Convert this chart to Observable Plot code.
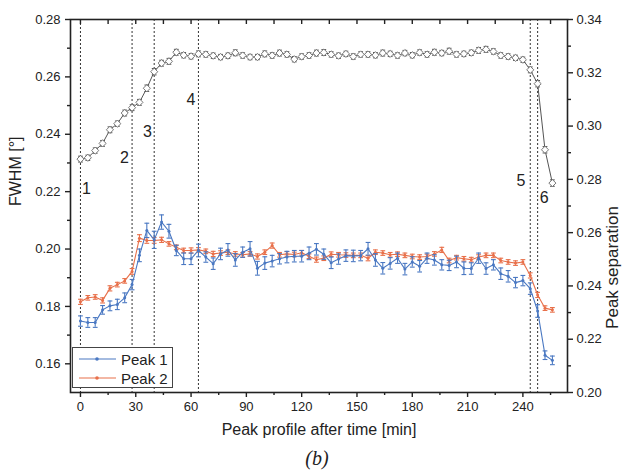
<!DOCTYPE html>
<html>
<head>
<meta charset="utf-8">
<script src="https://cdn.jsdelivr.net/npm/d3@7"></script>
<script src="https://cdn.jsdelivr.net/npm/@observablehq/plot@0.6"></script>
<style>
  body { margin: 0; background: white; }
  #wrap { position: relative; width: 624px; height: 470px; font-family: "Liberation Sans", Arial, sans-serif; }
  #legend { position: absolute; left: 72px; top: 347px; width: 101px; height: 41px; border: 1px solid #444; background: white; box-sizing: border-box; }
  .row { position: absolute; left: 0; height: 18px; display: flex; align-items: center; font-size: 15px; color: #222; white-space: nowrap; }
  #caption { position: absolute; left: 0; top: 445px; width: 634px; height: 26px; line-height: 26px; text-align: center; font-family: "Liberation Serif", "DejaVu Serif", serif; font-style: italic; font-size: 20px; color: #222; }
</style>
</head>
<body>
<div id="wrap">
  <div id="chart"></div>
  <div id="legend"></div>
  <div id="caption">(<i>b</i>)</div>
</div>
<script>
// ---- data ----
const time = [0,4,8,12,16,20,24,28,32,36,40,44,48,52,56,60,64,68,72,76,80,84,88,92,96,100,104,108,112,116,120,124,128,132,136,140,144,148,152,156,160,164,168,172,176,180,184,188,192,196,200,204,208,212,216,220,224,228,232,236,240,244,248,252,256];

const peak1 = [0.1749,0.1744,0.1744,0.1788,0.1802,0.1807,0.1830,0.1876,0.1978,0.2065,0.2032,0.2094,0.2062,0.1995,0.1966,0.1966,0.1995,0.1972,0.1949,0.1983,0.1997,0.1962,0.1989,0.2001,0.1933,0.1951,0.1958,0.1966,0.1972,0.1975,0.1975,0.1985,0.1999,0.1982,0.1952,0.1965,0.1977,0.1976,0.1977,0.2001,0.1962,0.1933,0.1950,0.1968,0.1930,0.1955,0.1940,0.1968,0.1962,0.1945,0.1943,0.1955,0.1933,0.1932,0.1968,0.1932,0.1945,0.1914,0.1905,0.1883,0.1890,0.1862,0.1784,0.1630,0.1612];
const peak1Err = [0.0018,0.0017,0.0017,0.0015,0.0017,0.0018,0.0017,0.0018,0.0022,0.0025,0.0030,0.0025,0.0024,0.0018,0.0020,0.0020,0.0022,0.0018,0.0020,0.0020,0.0022,0.0022,0.0018,0.0025,0.0024,0.0022,0.0020,0.0018,0.0020,0.0020,0.0020,0.0022,0.0020,0.0018,0.0020,0.0018,0.0020,0.0020,0.0018,0.0022,0.0022,0.0020,0.0020,0.0018,0.0020,0.0018,0.0020,0.0018,0.0018,0.0018,0.0018,0.0020,0.0022,0.0020,0.0018,0.0020,0.0018,0.0020,0.0020,0.0018,0.0018,0.0020,0.0022,0.0015,0.0015];

const peak2 = [0.1816,0.1830,0.1833,0.1821,0.1863,0.1876,0.1889,0.1922,0.2038,0.2030,0.2030,0.2032,0.2018,0.2006,0.1995,0.1995,0.1997,0.1992,0.1983,0.1986,0.1989,0.1983,0.1980,0.1983,0.1974,0.1989,0.2012,0.1980,0.1983,0.1981,0.1987,0.1975,0.1963,0.1968,0.1982,0.1980,0.1979,0.1978,0.1978,0.1968,0.1989,0.1986,0.1980,0.1982,0.1978,0.1974,0.1972,0.1974,0.1983,0.1997,0.1960,0.1970,0.1966,0.1963,0.1972,0.1978,0.1978,0.1960,0.1955,0.1951,0.1955,0.1908,0.1840,0.1794,0.1788];
const peak2Err = [0.0009,0.0008,0.0008,0.0009,0.0009,0.0008,0.0008,0.0010,0.0012,0.0010,0.0010,0.0009,0.0008,0.0008,0.0008,0.0009,0.0008,0.0008,0.0009,0.0008,0.0008,0.0008,0.0008,0.0008,0.0009,0.0008,0.0009,0.0008,0.0008,0.0008,0.0008,0.0008,0.0009,0.0008,0.0008,0.0008,0.0008,0.0008,0.0008,0.0009,0.0008,0.0008,0.0008,0.0008,0.0008,0.0008,0.0008,0.0008,0.0008,0.0009,0.0008,0.0008,0.0008,0.0008,0.0008,0.0008,0.0008,0.0008,0.0008,0.0008,0.0008,0.0009,0.0009,0.0008,0.0008];

const separation = [0.2876,0.2881,0.2908,0.2935,0.2986,0.3009,0.3049,0.3069,0.3089,0.3142,0.3204,0.3236,0.3243,0.3277,0.3266,0.3262,0.3271,0.3269,0.3264,0.3259,0.3264,0.3275,0.3265,0.3259,0.3259,0.3271,0.3265,0.3274,0.3269,0.3251,0.3261,0.3265,0.3274,0.3276,0.3269,0.3264,0.3271,0.3261,0.3269,0.3269,0.3266,0.3274,0.3271,0.3265,0.3274,0.3266,0.3276,0.3269,0.3277,0.3274,0.3281,0.3269,0.3271,0.3275,0.3284,0.3288,0.3280,0.3265,0.3261,0.3256,0.3249,0.3211,0.3159,0.2911,0.2786];
const separationErr = [0.0011,0.0010,0.0010,0.0011,0.0011,0.0010,0.0011,0.0011,0.0011,0.0012,0.0012,0.0011,0.0011,0.0011,0.0010,0.0010,0.0011,0.0010,0.0010,0.0010,0.0010,0.0011,0.0010,0.0010,0.0010,0.0011,0.0010,0.0011,0.0010,0.0010,0.0010,0.0010,0.0011,0.0011,0.0010,0.0010,0.0010,0.0010,0.0010,0.0010,0.0010,0.0011,0.0010,0.0010,0.0010,0.0010,0.0010,0.0010,0.0011,0.0010,0.0011,0.0010,0.0010,0.0010,0.0011,0.0011,0.0010,0.0010,0.0010,0.0010,0.0010,0.0011,0.0012,0.0012,0.0012];

const phaseLines = [0, 28, 40, 64, 244, 248];
const phaseLabels = ["1","2","3","4","5","6"];
const phaseLabelX = [3.3, 23.8, 36.4, 60, 238.9, 251.6];
const phaseLabelY = [0.2208, 0.2317, 0.2407, 0.2521, 0.2236, 0.2178];

const xTicksMajor = [0,30,60,90,120,150,180,210,240];
const xTicksMinor = [15,45,75,105,135,165,195,225,255];
const xTicksTop = [0,15,30,45,60,75,90,105,120,135,150,165,180,195,210,225,240,255];
const yLeftMajor = [0.16,0.18,0.20,0.22,0.24,0.26,0.28];
const yLeftMinor = [0.17,0.19,0.21,0.23,0.25,0.27];
const yRightMajor = [0.20,0.22,0.24,0.26,0.28,0.30,0.32,0.34];
const yRightMinor = [0.21,0.23,0.25,0.27,0.29,0.31,0.33];

const seriesNames = ["Peak 1", "Peak 2"];
const colors = { p1: "#4a78c2", p2: "#e8704a", sep: "#555" };

// ---- dual axis mapping: right (Peak separation) domain [0.20,0.34] -> left (FWHM) [0.15,0.28]
const L0 = 0.15, L1 = 0.28, R0 = 0.20, R1 = 0.34;
const toLeft = v => L0 + (v - R0) * (L1 - L0) / (R1 - R0);
const toRight = v => R0 + (v - L0) * (R1 - R0) / (L1 - L0);
const errToLeft = e => e * (L1 - L0) / (R1 - R0);

const rows = time.map((t, i) => ({
  t,
  p1: peak1[i], e1: peak1Err[i],
  p2: peak2[i], e2: peak2Err[i],
  s: toLeft(separation[i]), es: errToLeft(separationErr[i])
}));
const labels = phaseLabels.map((s, i) => ({ s, x: phaseLabelX[i], y: phaseLabelY[i] }));

const cap = 1.3; // half-width of error-bar caps, in minutes

function errorMarks(key, ekey, color, width) {
  return [
    Plot.ruleX(rows, { x: "t", y1: d => d[key] - d[ekey], y2: d => d[key] + d[ekey], stroke: color, strokeWidth: width }),
    Plot.link(rows, { x1: d => d.t - cap, x2: d => d.t + cap, y1: d => d[key] + d[ekey], y2: d => d[key] + d[ekey], stroke: color, strokeWidth: width }),
    Plot.link(rows, { x1: d => d.t - cap, x2: d => d.t + cap, y1: d => d[key] - d[ekey], y2: d => d[key] - d[ekey], stroke: color, strokeWidth: width })
  ];
}

const fmt2 = d3.format(".2f");
const chart = Plot.plot({
  width: 624,
  height: 445,
  marginLeft: 70,
  marginRight: 57,
  marginTop: 19,
  marginBottom: 53,
  style: { fontFamily: "'Liberation Sans', Arial, sans-serif", fontSize: "13px", color: "#222", background: "white" },
  x: { domain: [-5.4, 264.2], label: null },
  y: { domain: [L0, L1], label: null },
  marks: [
    Plot.ruleX(phaseLines, { stroke: "#333", strokeWidth: 1, strokeDasharray: "2,2" }),
    // Peak separation (right axis)
    ...errorMarks("s", "es", colors.sep, 1),
    Plot.line(rows, { x: "t", y: "s", stroke: colors.sep, strokeWidth: 1 }),
    Plot.dot(rows, { x: "t", y: "s", symbol: "diamond2", r: 3.2, stroke: "#777", fill: "white", strokeWidth: 1 }),
    // Peak 2
    ...errorMarks("p2", "e2", colors.p2, 1.1),
    Plot.line(rows, { x: "t", y: "p2", stroke: colors.p2, strokeWidth: 1.1 }),
    Plot.dot(rows, { x: "t", y: "p2", r: 1.5, fill: colors.p2 }),
    // Peak 1
    ...errorMarks("p1", "e1", colors.p1, 1.1),
    Plot.line(rows, { x: "t", y: "p1", stroke: colors.p1, strokeWidth: 1.1 }),
    Plot.dot(rows, { x: "t", y: "p1", r: 1.5, fill: colors.p1 }),
    // phase labels
    Plot.text(labels, { x: "x", y: "y", text: "s", fontSize: 16, fill: "#222" }),
    // axes
    Plot.axisX({ ticks: xTicksMajor, tickSize: 5, tickPadding: 4, fontSize: 13, stroke: "#222", strokeWidth: 1.4 }),
    Plot.axisX({ ticks: xTicksMinor, tickSize: 3, tickFormat: () => "", stroke: "#222", strokeWidth: 1.4 }),
    Plot.axisX({ anchor: "top", ticks: xTicksTop, tickSize: -4, tickFormat: () => "", stroke: "#222", strokeWidth: 1.4 }),
    Plot.axisY({ ticks: yLeftMajor, tickSize: 5, tickPadding: 5, tickFormat: fmt2, fontSize: 13, stroke: "#222", strokeWidth: 1.4 }),
    Plot.axisY({ ticks: yLeftMinor, tickSize: 3, tickFormat: () => "", stroke: "#222", strokeWidth: 1.4 }),
    Plot.axisY({ anchor: "right", ticks: yRightMajor.map(toLeft), tickSize: 5, tickPadding: 4, tickFormat: v => fmt2(toRight(v)), fontSize: 13, stroke: "#222", strokeWidth: 1.4 }),
    Plot.axisY({ anchor: "right", ticks: yRightMinor.map(toLeft), tickSize: 3, tickFormat: () => "", stroke: "#222", strokeWidth: 1.4 }),
    Plot.frame({ stroke: "#222", strokeWidth: 1.6 }),
    // axis titles
    Plot.text(["Peak profile after time [min]"], { frameAnchor: "bottom", dy: 42, fontSize: 16, fill: "#222" }),
    Plot.text(["FWHM [°]"], { frameAnchor: "left", dx: -55, rotate: -90, fontSize: 16, fill: "#222" }),
    Plot.text(["Peak separation"], { frameAnchor: "right", dx: 45, rotate: -90, fontSize: 17, fill: "#222" })
  ]
});
document.getElementById("chart").appendChild(chart);

// legend
const legend = document.getElementById("legend");
[["p1", 11], ["p2", 30]].forEach(([k, top], i) => {
  const row = document.createElement("div");
  row.className = "row";
  row.style.top = (top - 9) + "px";
  row.innerHTML = `<svg width="40" height="18" style="margin-left:6px;flex:none"><line x1="0" x2="37" y1="9" y2="9" stroke="${colors[k]}" stroke-width="1.2"/><circle cx="18" cy="9" r="1.8" fill="${colors[k]}"/></svg><span style="margin-left:2px">${seriesNames[i]}</span>`;
  legend.appendChild(row);
});
</script>
</body>
</html>
